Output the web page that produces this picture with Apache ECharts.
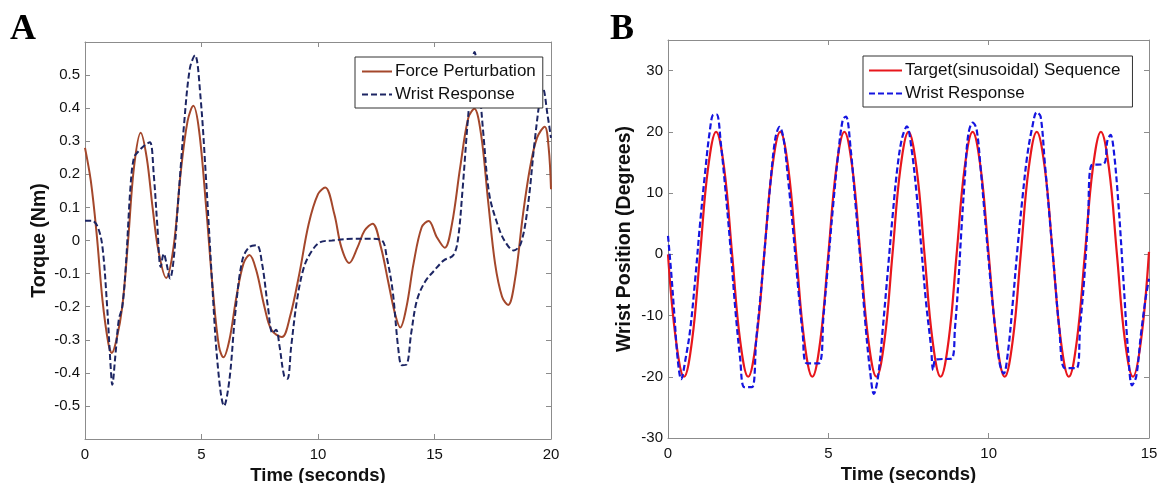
<!DOCTYPE html>
<html>
<head>
<meta charset="utf-8">
<script src="https://cdn.jsdelivr.net/npm/echarts@6/dist/echarts.min.js"></script>
<style>
html,body{margin:0;padding:0;background:#fff;}
#c{width:1164px;height:483px;}
</style>
</head>
<body>
<div id="c"></div>
<script>
// Panel A: Force perturbation (time, torque)
const tA_force = [0,0.25,0.5,0.75,1.0,1.15,1.35,1.6,1.85,2.1,2.39,2.65,2.9,3.15,3.48,3.8,4.1,4.4,4.65,4.9,5.2,5.5,5.75,5.94,6.2,6.5,6.8,7.06,7.35,7.7,8.0,8.45,8.8,9.2,9.6,10.0,10.31,10.7,11.0,11.34,11.7,12.0,12.34,12.7,13.0,13.3,13.53,13.8,14.1,14.45,14.75,15.1,15.44,15.75,16.1,16.45,16.71,17.0,17.3,17.6,17.9,18.16,18.45,18.8,19.1,19.4,19.73,19.9,20.0];
const vA_force = [0.28,0.18,0.02,-0.18,-0.31,-0.34,-0.30,-0.2,0.0,0.22,0.326,0.25,0.1,-0.03,-0.113,-0.02,0.2,0.36,0.407,0.33,0.1,-0.16,-0.32,-0.353,-0.3,-0.17,-0.07,-0.044,-0.09,-0.2,-0.27,-0.292,-0.23,-0.1,0.05,0.14,0.16,0.08,-0.02,-0.068,-0.02,0.03,0.051,-0.02,-0.12,-0.22,-0.263,-0.2,-0.07,0.04,0.059,0.01,-0.022,0.05,0.22,0.37,0.398,0.32,0.12,-0.07,-0.17,-0.195,-0.12,0.08,0.22,0.31,0.344,0.28,0.155];
// Panel A: Wrist response
const tA_wrist = [0,0.3,0.55,0.75,0.95,1.1,1.17,1.3,1.45,1.6,1.75,1.95,2.1,2.3,2.6,2.79,2.95,3.1,3.25,3.38,3.5,3.65,3.8,4.0,4.25,4.5,4.72,4.95,5.2,5.45,5.7,5.97,6.2,6.45,6.75,7.05,7.37,7.6,7.85,8.05,8.2,8.35,8.55,8.69,8.85,9.1,9.4,9.75,10.1,10.6,11.5,12.3,12.75,12.95,13.2,13.45,13.6,13.8,14.0,14.25,14.6,15.0,15.4,15.8,16.0,16.2,16.45,16.72,16.9,17.1,17.35,17.7,18.0,18.4,18.7,19.0,19.3,19.55,19.65,19.85,20.0];
const vA_wrist = [0.06,0.06,0.04,-0.02,-0.2,-0.38,-0.436,-0.35,-0.24,-0.2,-0.08,0.16,0.25,0.27,0.29,0.297,0.2,0.05,-0.08,-0.04,-0.07,-0.115,-0.06,0.12,0.35,0.52,0.56,0.44,0.18,-0.12,-0.38,-0.50,-0.42,-0.22,-0.06,-0.02,-0.014,-0.07,-0.2,-0.28,-0.27,-0.32,-0.41,-0.418,-0.32,-0.18,-0.08,-0.03,-0.005,0.0,0.005,0.005,0.0,-0.05,-0.15,-0.33,-0.377,-0.375,-0.28,-0.18,-0.124,-0.09,-0.06,-0.045,0.0,0.15,0.38,0.57,0.48,0.32,0.14,0.05,0.0,-0.03,-0.01,0.1,0.3,0.44,0.46,0.38,0.31];
// Panel B: Target (sinusoidal) sequence
const tB_target = [0,0.25,0.5,0.75,1,1.25,1.5,1.75,2,2.25,2.5,2.75,3,3.25,3.5,3.75,4,4.25,4.5,4.75,5,5.25,5.5,5.75,6,6.25,6.5,6.75,7,7.25,7.5,7.75,8,8.25,8.5,8.75,9,9.25,9.5,9.75,10,10.25,10.5,10.75,11,11.25,11.5,11.75,12,12.25,12.5,12.75,13,13.25,13.5,13.75,14,14.25,14.5,14.75,15];
const vB_target = [0,-14.1,-20,-14.1,0,14.1,20,14.1,0,-14.1,-20,-14.1,0,14.1,20,14.1,0,-14.1,-20,-14.1,0,14.1,20,14.1,0,-14.1,-20,-14.1,0,14.1,20,14.1,0,-14.1,-20,-14.1,0,14.1,20,14.1,0,-14.1,-20,-14.1,0,14.1,20,14.1,0,-14.1,-20,-14.1,0,14.1,20,14.1,0,-14.1,-20,-14.1,0.4];
// Panel B: Wrist response
const tB_wrist = [0,0.1,0.2,0.3,0.41,0.55,0.69,0.85,1.0,1.15,1.3,1.42,1.52,1.65,1.8,1.95,2.1,2.25,2.38,2.62,2.75,2.9,3.05,3.2,3.35,3.48,3.6,3.75,3.9,4.05,4.2,4.33,4.7,4.85,5.0,5.15,5.3,5.45,5.55,5.7,5.85,6.0,6.15,6.3,6.42,6.55,6.7,6.85,7.0,7.15,7.3,7.45,7.6,7.75,7.9,8.05,8.2,8.27,8.35,8.85,8.95,9.05,9.15,9.25,9.36,9.5,9.62,9.75,9.9,10.05,10.2,10.35,10.47,10.6,10.75,10.9,11.05,11.2,11.35,11.5,11.62,11.75,11.9,12.05,12.2,12.38,12.74,12.85,12.98,13.1,13.2,13.6,13.7,13.8,13.9,14.05,14.2,14.35,14.47,14.6,14.75,14.9,15.0];
const vB_wrist = [3,-3,-10,-17,-20.4,-17,-12.4,-4,5,13,20,22.8,22.8,18,10,1,-9,-17,-21.7,-21.7,-14,-6,3,12,19,20.8,19,12,4,-5,-13,-17.8,-17.8,-10,-1,8,16,22,22.5,17,8,-1,-11,-19,-22.8,-20,-12,-3,6,14,19,20.9,17,10,1,-8,-15,-18.9,-17.2,-17,-12,-5,4,12,19.4,21.5,20.5,14,5,-4,-12,-18,-19.5,-16,-8,1,9,16,20.5,23.2,22.5,15,6,-3,-12,-18.6,-18.6,-12,-4,6,14.5,14.8,18.5,19.5,17,8,-4,-16,-21.4,-20,-13,-7,-4];

const zip = (t, v) => t.map((x, i) => [x, v[i]]);

const FONT = '"Liberation Sans", Arial, sans-serif';
const axisGray = '#8c8c8c';
const tickLbl = {color:'#111', fontSize:15, fontFamily:FONT};
const xNameSty = {color:'#111', fontSize:18.5, fontWeight:'bold', fontFamily:FONT};
const yNameSty = {color:'#111', fontSize:19.5, fontWeight:'bold', fontFamily:FONT};
const lineAx = {show:true, onZero:false, lineStyle:{color:axisGray, width:1}};
const tickIn = {inside:true, length:5, lineStyle:{color:axisGray}};

function xAxisPair(gi, max, interval){
  return [
    {type:'value', gridIndex:gi, min:0, max:max, interval:interval, position:'bottom',
     axisLine:lineAx, axisTick:tickIn,
     axisLabel:Object.assign({margin:8}, tickLbl), splitLine:{show:false},
     name:'Time (seconds)', nameLocation:'middle', nameGap:23, nameTextStyle:xNameSty},
    {type:'value', gridIndex:gi, min:0, max:max, interval:interval, position:'top',
     axisLine:lineAx, axisTick:tickIn,
     axisLabel:{show:false}, splitLine:{show:false}}
  ];
}
function yAxisPair(gi, min, max, interval, name, gap, hideMin){
  return [
    {type:'value', gridIndex:gi, min:min, max:max, interval:interval, position:'left',
     axisLine:lineAx, axisTick:tickIn,
     axisLabel:Object.assign({margin:5, showMinLabel:!hideMin, showMaxLabel:false}, tickLbl), splitLine:{show:false},
     name:name, nameLocation:'middle', nameRotate:90, nameGap:gap, nameTextStyle:yNameSty},
    {type:'value', gridIndex:gi, min:min, max:max, interval:interval, position:'right',
     axisLine:lineAx, axisTick:tickIn,
     axisLabel:{show:false}, splitLine:{show:false}}
  ];
}

const legendBase = {orient:'vertical', itemHeight:12, itemGap:6,
  borderColor:'#333', borderWidth:1, backgroundColor:'#fff',
  itemStyle:{opacity:0, borderWidth:0},
  textStyle:{color:'#111', fontSize:17, fontFamily:FONT, padding:[0,0,0,-2]}};

const chart = echarts.init(document.getElementById('c'), null, {renderer:'canvas'});
chart.setOption({
  animation:false,
  backgroundColor:'#fff',
  grid:[
    {left:85, right:613, top:42, bottom:44, outerBoundsMode:'none', containLabel:false},
    {left:668, right:15, top:40, bottom:45, outerBoundsMode:'none', containLabel:false}
  ],
  xAxis:[].concat(xAxisPair(0, 20, 5), xAxisPair(1, 15, 5)),
  yAxis:[].concat(yAxisPair(0, -0.6, 0.6, 0.1, 'Torque (Nm)', 35, true), yAxisPair(1, -30, 35, 10, 'Wrist Position (Degrees)', 33, false)),
  legend:[
    Object.assign({}, legendBase, {left:355, top:57, itemWidth:30, padding:[6,7,5,6],
     data:['Force Perturbation','Wrist Response']}),
    Object.assign({}, legendBase, {left:863, top:56, itemWidth:33, padding:[6,12,5,5],
     data:['Target(sinusoidal) Sequence','Wrist Response ']})
  ],
  graphic:[
    {type:'text', left:10, top:12, style:{text:'A', font:'bold 36px "Liberation Serif", "Times New Roman", serif', fill:'#000'}},
    {type:'text', left:610, top:12, style:{text:'B', font:'bold 36px "Liberation Serif", "Times New Roman", serif', fill:'#000'}}
  ],
  series:[
    {name:'Force Perturbation', type:'line', xAxisIndex:0, yAxisIndex:0, data:zip(tA_force, vA_force),
     smooth:0.35, symbol:'none', lineStyle:{color:'#a4472b', width:2}, itemStyle:{color:'#a4472b'}, z:2},
    {name:'Wrist Response', type:'line', xAxisIndex:0, yAxisIndex:0, data:zip(tA_wrist, vA_wrist),
     smooth:0.35, symbol:'none', lineStyle:{color:'#1c2563', width:2, type:[6,3]}, itemStyle:{color:'#1c2563'}, z:3},
    {name:'Target(sinusoidal) Sequence', type:'line', xAxisIndex:2, yAxisIndex:2, data:zip(tB_target, vB_target),
     smooth:0.4, symbol:'none', lineStyle:{color:'#e8161c', width:2.2}, itemStyle:{color:'#e8161c'}, z:2},
    {name:'Wrist Response ', type:'line', xAxisIndex:2, yAxisIndex:2, data:zip(tB_wrist, vB_wrist),
     smooth:0.35, symbol:'none', lineStyle:{color:'#1515e0', width:2.2, type:[6,3]}, itemStyle:{color:'#1515e0'}, z:3}
  ]
});
</script>
</body>
</html>
